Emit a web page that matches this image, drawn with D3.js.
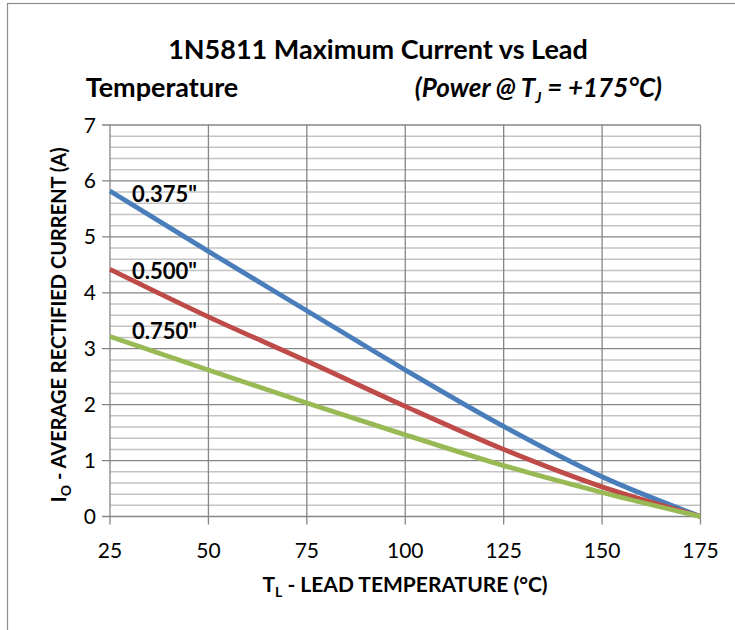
<!DOCTYPE html>
<meta charset="utf-8">
<style>

html, body {
  margin: 0;
  background: #fff;
  font-family: Lato, "Open Sans", sans-serif;
}

svg {
  display: block;
}

.grid-major line {
  stroke: #868686;
  stroke-width: 1.3px;
}

.grid-minor line {
  stroke: #c3c3c3;
  stroke-width: 1.5px;
}

.series path {
  fill: none;
  stroke-width: 4.8px;
}

.tick-label {
  font-size: 21px;
  fill: #000;
}

</style>
<svg class="chart"></svg>
<script src="https://d3js.org/d3.v7.min.js"></script>
<script>

var width = 735;
var height = 630;

// lead temperature (°C) and current (A) for each lead length
var temps = [25, 50, 75, 100, 125, 150, 175];
var io375 = [5.82, 4.74, 3.68, 2.62, 1.61, 0.71, 0];
var io500 = [4.42, 3.57, 2.78, 1.97, 1.20, 0.53, 0];
var io750 = [3.22, 2.62, 2.03, 1.46, 0.91, 0.43, 0];

var seriesNames = ['0.375"', '0.500"', '0.750"'];
var seriesColors = ['#4a7ebb', '#be4b48', '#98b954'];

var xTicks = [25, 50, 75, 100, 125, 150, 175];
var yTicks = [0, 1, 2, 3, 4, 5, 6, 7];

var margin = {left: 110, right: 35, top: 125, bottom: 113};

// baseline offset of each series label from the curve's left end
var labelOffsets = [11, 10, 3];

var svg = d3.select('svg.chart')
  .attr('width', width)
  .attr('height', height);

// outer frame
svg.append('rect')
  .attr('x', 7.5)
  .attr('y', 3.5)
  .attr('width', width)
  .attr('height', height)
  .attr('fill', 'none')
  .attr('stroke', '#8c8c8c')
  .attr('stroke-width', 1.2);

var x = d3.scaleLinear()
  .domain([25, 175])
  .range([margin.left, width - margin.right + 0.5]);

var y = d3.scaleLinear()
  .domain([0, 7])
  .range([height - margin.bottom - 0.5, margin.top]);

// minor horizontal gridlines every 0.2 A
var minor = d3.range(0, 7.01, 0.2).filter(function (v) {
  return Math.abs(v - Math.round(v)) > 0.01;
});

svg.append('g')
    .attr('class', 'grid-minor')
  .selectAll('line')
  .data(minor)
  .enter().append('line')
    .attr('x1', x(25))
    .attr('x2', x(175))
    .attr('y1', function (d) { return y(d); })
    .attr('y2', function (d) { return y(d); });

var major = svg.append('g').attr('class', 'grid-major');

major.selectAll('line.h')
  .data(yTicks)
  .enter().append('line')
    .attr('class', 'h')
    .attr('x1', x(25) - 8)
    .attr('x2', x(175))
    .attr('y1', function (d) { return y(d); })
    .attr('y2', function (d) { return y(d); });

major.selectAll('line.v')
  .data(xTicks)
  .enter().append('line')
    .attr('class', 'v')
    .attr('x1', function (d) { return x(d); })
    .attr('x2', function (d) { return x(d); })
    .attr('y1', y(7))
    .attr('y2', y(0) + 8);

// tick labels
svg.append('g').selectAll('text')
  .data(yTicks)
  .enter().append('text')
    .attr('class', 'tick-label')
    .attr('x', x(25) - 14)
    .attr('y', function (d) { return y(d); })
    .attr('dy', '0.36em')
    .attr('text-anchor', 'end')
    .text(function (d) { return d; });

svg.append('g').selectAll('text')
  .data(xTicks)
  .enter().append('text')
    .attr('class', 'tick-label')
    .attr('x', function (d) { return x(d); })
    .attr('y', 558)
    .attr('text-anchor', 'middle')
    .text(function (d) { return d; });

// series
var line = d3.line()
  .x(function (d) { return x(d[0]); })
  .y(function (d) { return y(d[1]); })
  .curve(d3.curveMonotoneX);

var series = [io375, io500, io750].map(function (vals, i) {
  return {
    name: seriesNames[i],
    color: seriesColors[i],
    points: temps.map(function (t, j) { return [t, vals[j]]; })
  };
});

svg.append('g')
    .attr('class', 'series')
  .selectAll('path')
  .data(series)
  .enter().append('path')
    .attr('stroke', function (d) { return d.color; })
    .attr('d', function (d) { return line(d.points); });

// lead length labels near the left end of each curve
svg.append('g').selectAll('text')
  .data(series)
  .enter().append('text')
    .attr('x', x(25) + 22)
    .attr('y', function (d, i) { return y(d.points[0][1]) + labelOffsets[i]; })
    .attr('font-size', 22)
    .attr('font-weight', 'bold')
    .text(function (d) { return d.name; });

// title
svg.append('text')
  .attr('x', 378)
  .attr('y', 59)
  .attr('text-anchor', 'middle')
  .attr('font-size', 27)
  .attr('font-weight', 'bold')
  .text('1N5811 Maximum Current vs Lead');

svg.append('text')
  .attr('x', 162)
  .attr('y', 97)
  .attr('text-anchor', 'middle')
  .attr('font-size', 27)
  .attr('font-weight', 'bold')
  .text('Temperature');

var sub = svg.append('text')
  .attr('x', 662)
  .attr('y', 97)
  .attr('text-anchor', 'end')
  .attr('font-size', 26)
  .attr('font-weight', 'bold')
  .attr('font-style', 'italic');
sub.append('tspan').text('(Power @ T');
sub.append('tspan').attr('font-size', 15).attr('dy', 6).text('J');
sub.append('tspan').attr('dy', -6).text(' = +175°C)');

// axis titles
var yLabel = svg.append('text')
  .attr('transform', 'translate(66,' + (y(3.5) + 4) + ') rotate(-90)')
  .attr('text-anchor', 'middle')
  .attr('font-size', 20)
  .attr('font-weight', 'bold');
yLabel.append('tspan').text('I');
yLabel.append('tspan').attr('font-size', 14).attr('dy', 5).text('O');
yLabel.append('tspan').attr('dy', -5).text(' - AVERAGE RECTIFIED CURRENT (A)');

var xLabel = svg.append('text')
  .attr('x', 405)
  .attr('y', 592)
  .attr('text-anchor', 'middle')
  .attr('font-size', 21)
  .attr('font-weight', 'bold');
xLabel.append('tspan').text('T');
xLabel.append('tspan').attr('font-size', 14).attr('dy', 5).text('L');
xLabel.append('tspan').attr('dy', -5).text(' - LEAD TEMPERATURE (°C)');

</script>
